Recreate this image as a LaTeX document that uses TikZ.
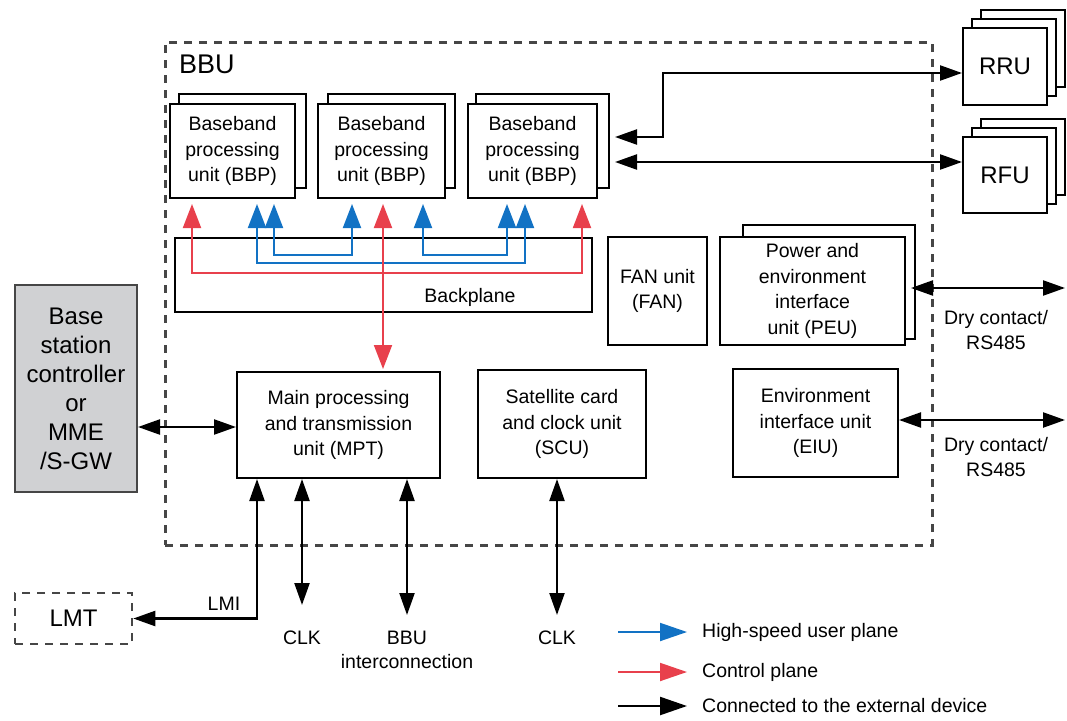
\documentclass[tikz,border=0pt]{standalone}
\usepackage{fontspec}
\setmainfont{Liberation Sans}
\usetikzlibrary{arrows.meta}
\definecolor{ublue}{RGB}{18,114,196}
\definecolor{cred}{RGB}{232,64,76}
\definecolor{bsgray}{RGB}{208,209,211}
\definecolor{dgray}{RGB}{70,70,70}
\begin{document}
\begin{tikzpicture}[x=1pt,y=-1pt,
  unitbox/.style={draw=black, line width=2pt, fill=white, inner sep=0pt, align=center,
    font=\fontsize{19.5}{25.5}\selectfont},
  bigtxt/.style={font=\fontsize{24}{29}\selectfont, align=center, inner sep=0pt},
  lbl/.style={font=\fontsize{19.5}{24.5}\selectfont, align=center, inner sep=0pt},
  ext/.style={draw=black, line width=2.3pt, >={Triangle[length=22pt,width=15pt]}},
  user/.style={draw=ublue, line width=1.9pt, >={Triangle[length=24pt,width=18pt]}},
  ctrl/.style={draw=cred, line width=1.9pt, >={Triangle[length=24pt,width=18pt]}}
]
\useasboundingbox (0,0) rectangle (1067,720);

% BBU frame
\node[draw=dgray, dash pattern=on 8pt off 7pt, line width=3pt, inner sep=0pt,
  minimum width=767pt, minimum height=503pt] (bbu) at (548.5,293.5) {};
\node[font=\fontsize{27}{32}\selectfont, anchor=west, inner sep=0pt] (bbulbl) at (179,64) {BBU};

% BBP boards
\node[unitbox, minimum width=127pt, minimum height=94pt] (bbp1b) at (242.5,141) {};
\node[unitbox, minimum width=125pt, minimum height=94pt] (bbp1) at (232.5,151) {Baseband\\processing\\unit (BBP)};
\node[unitbox, minimum width=127pt, minimum height=94pt] (bbp2b) at (391.5,141) {};
\node[unitbox, minimum width=127pt, minimum height=94pt] (bbp2) at (381.5,151) {Baseband\\processing\\unit (BBP)};
\node[unitbox, minimum width=133pt, minimum height=94pt] (bbp3b) at (542.5,141) {};
\node[unitbox, minimum width=129pt, minimum height=94pt] (bbp3) at (532.5,151) {Baseband\\processing\\unit (BBP)};

% Backplane
\node[unitbox, minimum width=417pt, minimum height=74pt] (bp) at (383.5,275) {};
\node[lbl] (bplbl) at (470,297) {Backplane};

% FAN, PEU, EIU
\node[unitbox, minimum width=99pt, minimum height=108pt] (fan) at (657.5,291) {FAN unit\\(FAN)};
\node[unitbox, minimum width=172pt, minimum height=114pt] (peub) at (829,282) {};
\node[unitbox, minimum width=185pt, minimum height=108pt] (peu) at (812.5,291) {Power and\\environment\\interface\\unit (PEU)};
\node[unitbox, minimum width=165pt, minimum height=108pt] (eiu) at (815.5,423) {Environment\\interface unit\\(EIU)};

% MPT, SCU
\node[unitbox, minimum width=203pt, minimum height=106pt] (mpt) at (338.5,425) {Main processing\\and transmission\\unit (MPT)};
\node[unitbox, minimum width=168pt, minimum height=108pt] (scu) at (562,424) {Satellite card\\and clock unit\\(SCU)};

% Base station controller
\node[draw=dgray, line width=2pt, fill=bsgray, minimum width=122pt, minimum height=207pt,
  bigtxt] (bsc) at (76,388.5) {Base\\station\\controller\\or\\MME\\/S-GW};

% LMT
\node[draw=dgray, dash pattern=on 8pt off 7pt, line width=2.6pt, minimum width=117pt, minimum height=51pt,
  bigtxt] (lmt) at (73.5,618.5) {LMT};

% RRU / RFU stacks
\node[unitbox, minimum width=84pt, minimum height=77pt] (rru3) at (1023,48.5) {};
\node[unitbox, minimum width=84pt, minimum height=77pt] (rru2) at (1014,57.5) {};
\node[unitbox, minimum width=84pt, minimum height=77pt, font=\fontsize{24}{29}\selectfont] (rru) at (1005,66.5) {RRU};
\node[unitbox, minimum width=84pt, minimum height=76pt] (rfu3) at (1023,157) {};
\node[unitbox, minimum width=84pt, minimum height=76pt] (rfu2) at (1014,166) {};
\node[unitbox, minimum width=84pt, minimum height=76pt, font=\fontsize{24}{29}\selectfont] (rfu) at (1005,175) {RFU};

% user plane (blue)
\draw[user,<->,shorten <=5pt,shorten >=5pt] (bbp1.south -| 257,0) |- (525,263) -| (bbp3.south -| 525,0);
\draw[user,<->,shorten <=5pt,shorten >=5pt] (bbp1.south -| 274,0) |- (352,255) -| (bbp2.south -| 352,0);
\draw[user,<->,shorten <=5pt,shorten >=5pt] (bbp2.south -| 423,0) |- (507,255) -| (bbp3.south -| 507,0);
% control plane (red)
\draw[ctrl,<->,shorten <=5pt,shorten >=5pt] (bbp1.south -| 192,0) |- (582,273) -| (bbp3.south -| 582,0);
\draw[ctrl,<->,shorten <=2pt,shorten >=5pt] (mpt.north -| 383,0) -- (bbp2.south -| 383,0);

% external connections
\coordinate (rruend) at (615,137);
\draw[ext,<->] (rruend) -| (663,73) -- (rru.west |- 0,73);
\coordinate (rfuend) at (615,162);
\draw[ext,<->] (rfuend) -- (rfu.west |- 0,162);
\coordinate (peuout) at (1065,288);
\draw[ext,<->] (peu.east |- 0,288) ++(5,0) -- (peuout);
\coordinate (eiuout) at (1065,420);
\draw[ext,<->] (eiu.east |- 0,420) -- (eiuout);
\node[lbl] (dry1) at (996,330) {Dry contact/\\RS485};
\node[lbl] (dry2) at (996,457) {Dry contact/\\RS485};

\draw[ext,<->] (bsc.east |- 0,427) -- (mpt.west |- 0,427);

\draw[ext,<->] (mpt.south -| 257,0) |- (lmt.east);
\node[lbl] (lmi) at (224,604) {LMI};
\coordinate (clk1end) at (302,605);
\draw[ext,<->] (mpt.south -| 302,0) -- (clk1end);
\node[lbl] (clk1) at (302,638) {CLK};
\coordinate (bbuiend) at (407,615);
\draw[ext,<->] (mpt.south -| 407,0) -- (bbuiend);
\node[lbl] (bbui) at (407,650) {BBU\\interconnection};
\coordinate (clk2end) at (557,615);
\draw[ext,<->] (scu.south -| 557,0) -- (clk2end);
\node[lbl] (clk2) at (557,638) {CLK};

% legend
\node[lbl, anchor=west] (leg1) at (702,632) {High-speed user plane};
\node[lbl, anchor=west] (leg2) at (702,672) {Control plane};
\node[lbl, anchor=west] (leg3) at (702,706) {Connected to the external device};
\draw[user,->,>={Triangle[length=27pt,width=18pt]}] ([xshift=-84pt]leg1.west) -- ([xshift=-15pt]leg1.west);
\draw[ctrl,->,>={Triangle[length=27pt,width=18pt]}] ([xshift=-84pt]leg2.west) -- ([xshift=-15pt]leg2.west);
\draw[ext,->,>={Triangle[length=27pt,width=18pt]}] ([xshift=-84pt]leg3.west) -- ([xshift=-15pt]leg3.west);
\end{tikzpicture}
\end{document}
